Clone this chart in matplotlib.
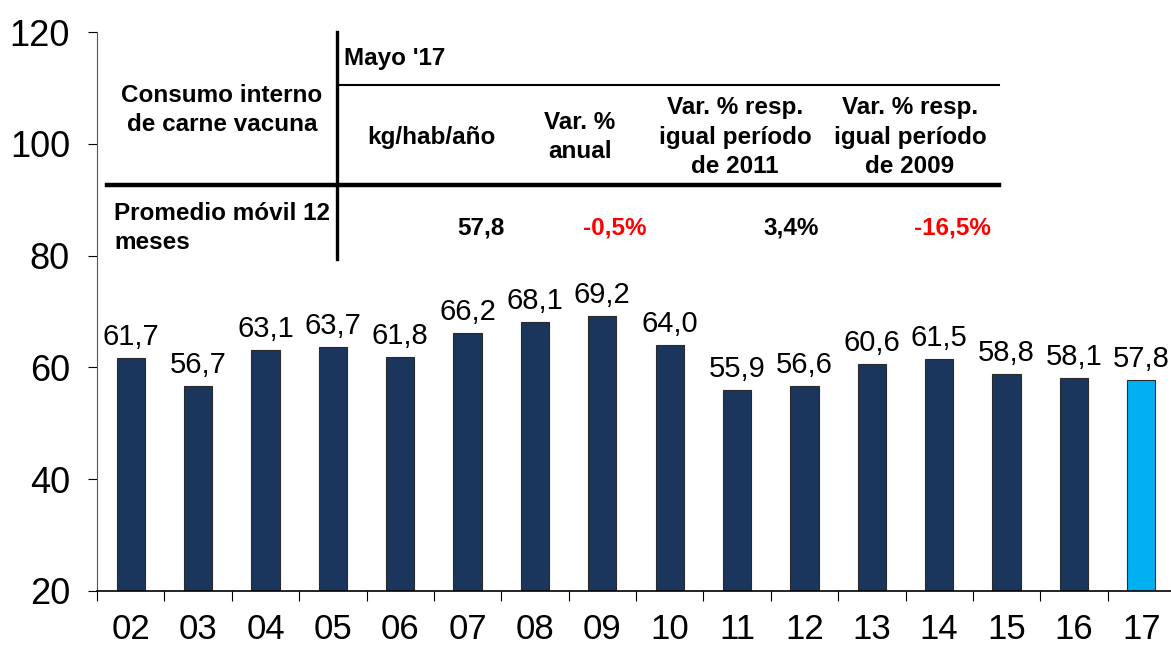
import matplotlib
matplotlib.use("Agg")
import matplotlib.pyplot as plt
from matplotlib.lines import Line2D

plt.rcParams['font.family'] = ['Liberation Sans', 'DejaVu Sans']

# Consumo interno de carne vacuna, promedio movil 12 meses (kg/hab/año)
years = ['02', '03', '04', '05', '06', '07', '08', '09',
         '10', '11', '12', '13', '14', '15', '16', '17']
consumo = [61.7, 56.7, 63.1, 63.7, 61.8, 66.2, 68.1, 69.2,
           64.0, 55.9, 56.6, 60.6, 61.5, 58.8, 58.1, 57.8]

# tabla resumen Mayo '17
col_headers = ['kg/hab/año', 'Var. %\nanual',
               'Var. % resp.\nigual período\nde 2011',
               'Var. % resp.\nigual período\nde 2009']
row_values = ['57,8', '-0,5%', '3,4%', '-16,5%']
row_colors = ['black', '#FF0000', 'black', '#FF0000']

W, H = 1171, 645
fig = plt.figure(figsize=(W / 100, H / 100), dpi=100)


def fx(px):
    return px / W


def fy(py):
    return 1 - py / H


ax = fig.add_axes([fx(97), fy(591), (1175 - 97) / W, (591 - 32) / H])

colors = ['#1B365D'] * (len(years) - 1) + ['#00B0F0']
x = range(len(years))
bars = ax.bar(x, consumo, width=0.42, color=colors, edgecolor='#2a2a2a',
              linewidth=0.8, zorder=2)

for xi, v in zip(x, consumo):
    ax.annotate(f'{v:.1f}'.replace('.', ','), (xi, v), xytext=(0, 5),
                textcoords='offset points', ha='center', va='bottom',
                fontsize=21)

ax.set_ylim(20, 120)
ax.set_xlim(-0.5, len(years) - 0.5)
ax.set_yticks(range(20, 121, 20))
ax.tick_params(axis='y', direction='out', length=6.5, width=0.8,
               labelsize=26, pad=13)
ax.set_xticks(list(x))
ax.set_xticklabels(years)
ax.set_xticks([i + 0.5 for i in range(-1, len(years))], minor=True)
ax.tick_params(axis='x', which='major', length=0, labelsize=25, pad=16)
ax.tick_params(axis='x', which='minor', direction='out', length=7.5,
               width=0.8)

for side in ['top', 'right']:
    ax.spines[side].set_visible(False)
ax.spines['left'].set_color('#555555')
ax.spines['left'].set_linewidth(0.8)
ax.spines['bottom'].set_linewidth(1.2)

# tabla dibujada sobre el grafico
def hline(x0, x1, y, lw):
    fig.add_artist(Line2D([fx(x0), fx(x1)], [fy(y), fy(y)], color='black',
                          linewidth=lw, transform=fig.transFigure))


fig.add_artist(Line2D([fx(337), fx(337)], [fy(32), fy(259)], color='black',
                      linewidth=2.4, transform=fig.transFigure))
hline(337, 999, 84.5, 1.5)
hline(107, 999, 185, 3.2)

tk = dict(fontsize=17.5, fontweight='bold', linespacing=1.35)
fig.text(fx(222), fy(110), 'Consumo interno\nde carne vacuna',
         ha='center', va='center', **tk)
fig.text(fx(344), fy(58), "Mayo '17", ha='left', va='center', **tk)

col_x = [431, 580, 735, 910]
for cx, h in zip(col_x, col_headers):
    fig.text(fx(cx), fy(137), h, ha='center', va='center', **tk)

fig.text(fx(114), fy(228), 'Promedio móvil 12\nmeses', ha='left',
         va='center', **tk)

val_x = [505, 646, 819, 991]
for vx, val, c in zip(val_x, row_values, row_colors):
    fig.text(fx(vx), fy(228), val, ha='right', va='center', color=c, **tk)

fig.savefig('out.png', dpi=100)
